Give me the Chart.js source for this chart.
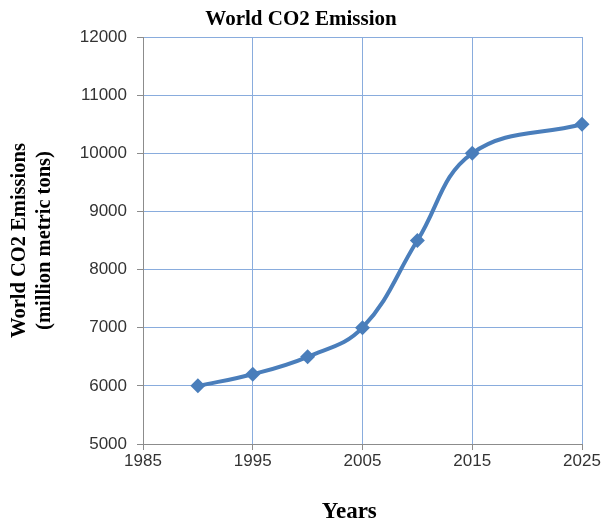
<!DOCTYPE html>
<html>
<head>
<meta charset="utf-8">
<title>World CO2 Emission</title>
<script src="https://cdn.jsdelivr.net/npm/chart.js@4"></script>
<style>
  html, body { margin: 0; padding: 0; background: #fff; }
  #wrap { width: 602px; height: 521px; position: relative; }
</style>
</head>
<body>
<div id="wrap"><canvas id="co2Chart"></canvas></div>
<script>
// chart data
const years = [1990, 1995, 2000, 2005, 2010, 2015, 2025];
const emissions = [6000, 6200, 6500, 7000, 8500, 10000, 10500];
const xRange = [1985, 2025];
const yRange = [5000, 12000];
const xTitle = 'Years';

const lineBlue = '#4a7ebb';
const gridBlue = '#89acdd';
const axisGray = '#8c8c8c';
const serifFamily = '"Liberation Serif", "Times New Roman", serif';
const tickFont = { family: '"Liberation Sans", Arial, sans-serif', size: 17 };

// x axis title sits a bit left of the plot centre and runs off the bottom edge
const xTitlePlugin = {
  id: 'xTitle',
  afterDraw(chart) {
    const { ctx, chartArea } = chart;
    ctx.save();
    ctx.font = 'bold 23px ' + serifFamily;
    ctx.fillStyle = '#000';
    ctx.textAlign = 'center';
    ctx.textBaseline = 'alphabetic';
    ctx.fillText(xTitle, chartArea.left + (chartArea.right - chartArea.left) * 0.47, 518);
    ctx.restore();
  }
};

document.addEventListener('DOMContentLoaded', function() {
  const ctx = document.getElementById('co2Chart');
  new Chart(ctx.getContext('2d'), {
    type: 'line',
    data: {
      datasets: [{
        label: 'World CO2 Emissions',
        data: years.map((y, i) => ({ x: y, y: emissions[i] })),
        borderColor: lineBlue,
        backgroundColor: lineBlue,
        borderWidth: 4,
        tension: 0.4,
        clip: false,
        pointStyle: 'rectRot',
        pointRadius: 7.5,
        pointHoverRadius: 7.5,
        pointBorderWidth: 0
      }]
    },
    options: {
      responsive: true,
      maintainAspectRatio: false,
      animation: false,
      layout: { padding: 0 },
      plugins: {
        legend: { display: false },
        tooltip: { enabled: false },
        title: {
          display: true,
          text: 'World CO2 Emission',
          color: '#000',
          font: { family: serifFamily, weight: 'bold', size: 21, lineHeight: 1.2 },
          padding: { top: 7, bottom: 4.8 }
        }
      },
      scales: {
        x: {
          type: 'linear',
          min: xRange[0],
          max: xRange[1],
          afterFit: function(scale) {
            scale.height = 77;
            scale.paddingRight = 20;
          },
          ticks: {
            stepSize: 10,
            color: '#333',
            padding: 1,
            font: tickFont,
            callback: value => String(value)
          },
          grid: { color: gridBlue, tickColor: axisGray, tickLength: 6 },
          border: { color: axisGray, width: 1 }
        },
        y: {
          min: yRange[0],
          max: yRange[1],
          afterFit: function(scale) { scale.width = 143; },
          ticks: {
            stepSize: 1000,
            color: '#333',
            padding: 10,
            font: tickFont,
            callback: value => String(value)
          },
          grid: { color: gridBlue, tickColor: axisGray, tickLength: 6 },
          border: { color: axisGray, width: 1 },
          title: {
            display: true,
            text: ['World CO2 Emissions', '(million metric tons)'],
            color: '#000',
            font: { family: serifFamily, weight: 'bold', size: 20.5, lineHeight: 1.24 },
            padding: { top: 7, bottom: 0 }
          }
        }
      }
    },
    plugins: [xTitlePlugin]
  });
});
</script>
</body>
</html>
